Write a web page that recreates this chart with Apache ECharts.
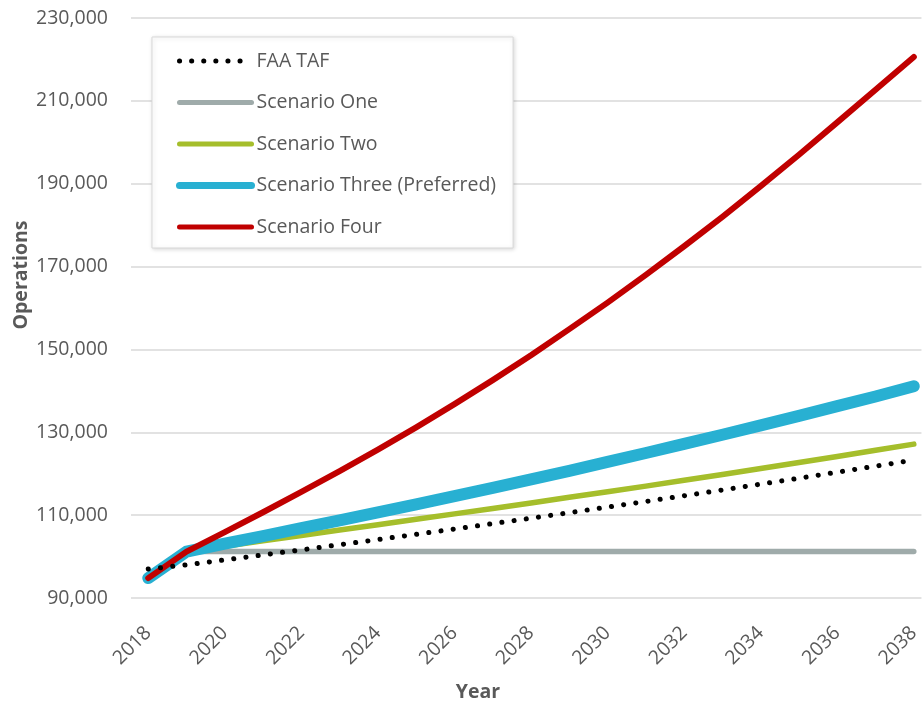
<!DOCTYPE html>
<html>
<head>
<meta charset="utf-8">
<title>Operations Forecast Scenarios</title>
<script src="https://cdn.jsdelivr.net/npm/echarts@6/dist/echarts.min.js"></script>
<style>
  html, body { margin: 0; padding: 0; background: #ffffff; }
  #chart { width: 923px; height: 704px; }
</style>
</head>
<body>
<div id="chart"></div>
<script>
// Forecast years
const years = [2018, 2019, 2020, 2021, 2022, 2023, 2024, 2025, 2026, 2027, 2028,
               2029, 2030, 2031, 2032, 2033, 2034, 2035, 2036, 2037, 2038];

// Annual operations by forecast
const faaTaf = [97000, 98000, 99190, 100400, 101620, 102860, 104110, 105370, 106650, 107950, 109260,
                110590, 111940, 113300, 114680, 116070, 117480, 118910, 120360, 121820, 123300];
const scenarioOne = [94800, 101200, 101200, 101200, 101200, 101200, 101200, 101200, 101200, 101200, 101200,
                     101200, 101200, 101200, 101200, 101200, 101200, 101200, 101200, 101200, 101200];
const scenarioTwo = [94800, 101200, 102500, 103800, 105100, 106400, 107700, 109000, 110300, 111600, 112950,
                     114300, 115650, 117000, 118400, 119800, 121250, 122700, 124150, 125650, 127150];
const scenarioThree = [94800, 101200, 103100, 104950, 106850, 108750, 110650, 112600, 114600, 116600, 118650,
                       120700, 122850, 125000, 127200, 129400, 131650, 133950, 136300, 138650, 141100];
const scenarioFour = [94800, 101200, 105900, 110700, 115600, 120600, 125800, 131200, 136800, 142600, 148600,
                      154900, 161300, 168000, 174900, 182000, 189400, 197000, 204800, 212700, 220600];

// Axis ticks
const yearTicks = [2018, 2020, 2022, 2024, 2026, 2028, 2030, 2032, 2034, 2036, 2038];
const opsMin = 90000, opsMax = 230000, opsStep = 20000;

const labelColor = '#595959';
const fontFamily = '"Open Sans", "Noto Sans", sans-serif';

const colors = {
  faa: '#000000',
  one: '#9fabaa',
  two: '#a5be2b',
  three: '#28b0d2',
  four: '#c00000'
};

const pairs = vals => years.map((y, i) => [y, vals[i]]);

const chart = echarts.init(document.getElementById('chart'), null, { renderer: 'canvas' });

// legend entry: plain stroke, no marker
const legendEntry = (name, color, width, type) => ({
  name: name,
  itemStyle: { opacity: 0 },
  lineStyle: { color: color, width: width, type: type || 'solid', cap: 'round' }
});

chart.setOption({
  animation: false,
  backgroundColor: '#ffffff',
  textStyle: { fontFamily: fontFamily },
  grid: { left: 131, right: 0, top: 18, bottom: 106, containLabel: false },
  xAxis: {
    type: 'value',
    min: 2017.55,
    max: 2038.2,
    axisLine: { show: false },
    axisTick: { show: false },
    splitLine: { show: false },
    axisLabel: {
      customValues: yearTicks,
      rotate: 45,
      margin: 32,
      color: labelColor,
      fontSize: 19.5,
      fontFamily: fontFamily,
      formatter: v => String(v)
    }
  },
  yAxis: {
    type: 'value',
    min: opsMin,
    max: opsMax,
    interval: opsStep,
    axisLine: { show: false },
    axisTick: { show: false },
    splitLine: { lineStyle: { color: '#d9d9d9', width: 1.5 } },
    axisLabel: {
      margin: 23,
      color: labelColor,
      fontSize: 19.5,
      fontFamily: fontFamily,
      formatter: v => v.toLocaleString('en-US')
    }
  },
  legend: {
    left: 152,
    top: 37,
    orient: 'vertical',
    data: [
      legendEntry('FAA TAF', colors.faa, 5, [0.1, 12]),
      legendEntry('Scenario One', colors.one, 5),
      legendEntry('Scenario Two', colors.two, 5),
      legendEntry('Scenario Three (Preferred)', colors.three, 7),
      legendEntry('Scenario Four', colors.four, 5)
    ],
    itemWidth: 72,
    itemHeight: 14,
    itemGap: 21.5,
    padding: [14, 17, 11, 24],
    backgroundColor: '#ffffff',
    borderColor: '#d9d9d9',
    borderWidth: 1,
    shadowBlur: 4,
    shadowColor: 'rgba(0,0,0,0.15)',
    shadowOffsetX: 1,
    shadowOffsetY: 1,
    textStyle: { color: labelColor, fontSize: 19.5, lineHeight: 20, fontFamily: fontFamily }
  },
  graphic: [
    {
      type: 'text',
      x: 21,
      y: 275,
      rotation: Math.PI / 2,
      style: {
        text: 'Operations', fill: labelColor, font: 'bold 19.5px ' + fontFamily,
        align: 'center', verticalAlign: 'middle'
      }
    },
    {
      type: 'text',
      x: 478,
      y: 692,
      style: {
        text: 'Year', fill: labelColor, font: 'bold 19.5px ' + fontFamily,
        align: 'center', verticalAlign: 'middle'
      }
    }
  ],
  series: [
    {
      name: 'Scenario One', type: 'line', showSymbol: false, symbol: 'none', z: 2,
      data: pairs(scenarioOne),
      itemStyle: { color: colors.one },
      lineStyle: { color: colors.one, width: 5.5, cap: 'round', join: 'round' }
    },
    {
      name: 'Scenario Two', type: 'line', showSymbol: false, symbol: 'none', z: 3,
      data: pairs(scenarioTwo),
      itemStyle: { color: colors.two },
      lineStyle: { color: colors.two, width: 5.5, cap: 'round', join: 'round' }
    },
    {
      name: 'Scenario Three (Preferred)', type: 'line', showSymbol: false, symbol: 'none', z: 4,
      data: pairs(scenarioThree),
      itemStyle: { color: colors.three },
      lineStyle: { color: colors.three, width: 12, cap: 'round', join: 'round' }
    },
    {
      name: 'Scenario Four', type: 'line', showSymbol: false, symbol: 'none', z: 5,
      data: pairs(scenarioFour),
      itemStyle: { color: colors.four },
      lineStyle: { color: colors.four, width: 6, cap: 'round', join: 'round' }
    },
    {
      name: 'FAA TAF', type: 'line', showSymbol: false, symbol: 'none', z: 6,
      data: pairs(faaTaf),
      itemStyle: { color: colors.faa },
      lineStyle: { color: colors.faa, width: 5, type: [0.1, 12.2], cap: 'round', join: 'round' }
    }
  ]
});
</script>
</body>
</html>
